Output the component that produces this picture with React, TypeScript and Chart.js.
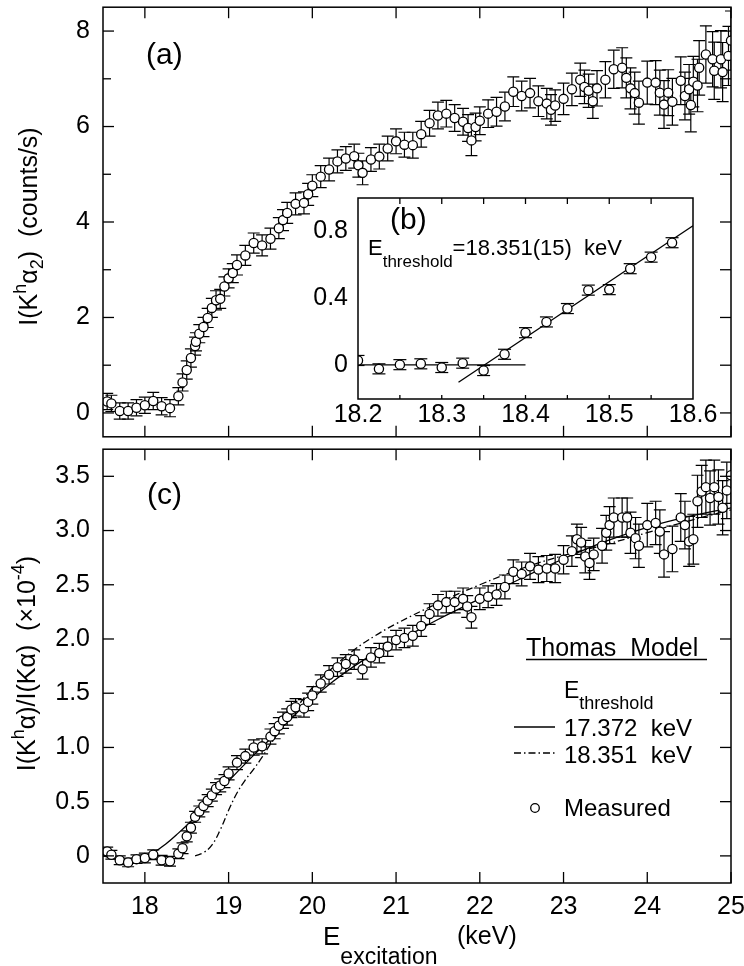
import React, { useEffect, useRef } from "react";
import { Chart, registerables } from "chart.js";

Chart.register(...registerables);

const FONT = "'Liberation Sans', Arial, Helvetica, sans-serif";
const INK = "#000";

// ---------- Panel (a): I(K^h alpha_2) counts/s ----------
const aEnergy = [
  17.55, 17.6, 17.7, 17.8, 17.9, 18.0, 18.1, 18.2, 18.3, 18.4, 18.45, 18.5, 18.55, 18.6, 18.61, 18.65, 18.7, 18.75,
  18.8, 18.85, 18.9, 18.95, 19.0, 19.05, 19.1, 19.2, 19.3, 19.4, 19.5, 19.6, 19.65, 19.7, 19.8, 19.9, 19.95, 20.0,
  20.1, 20.2, 20.3, 20.4, 20.5, 20.55, 20.6, 20.7, 20.8, 20.9, 21.0, 21.1, 21.2, 21.3, 21.4, 21.5, 21.6, 21.7, 21.8,
  21.86, 21.9, 21.95, 22.0, 22.1, 22.2, 22.3, 22.4, 22.5, 22.6, 22.7, 22.8, 22.85, 22.9, 23.0, 23.1, 23.2, 23.25,
  23.3, 23.35, 23.4, 23.5, 23.6, 23.7, 23.75, 23.8, 23.85, 23.9, 24.0, 24.1, 24.15, 24.2, 24.25, 24.3, 24.4, 24.45,
  24.5, 24.52, 24.55, 24.6, 24.62, 24.7, 24.78, 24.8, 24.88, 24.9, 24.97, 25.0,
];
const aIntensity = [
  0.24, 0.2, 0.04, 0.04, 0.11, 0.16, 0.25, 0.14, 0.1, 0.35, 0.64, 0.9, 1.15, 1.4, 1.49, 1.66, 1.8, 1.99,
  2.2, 2.36, 2.39, 2.65, 2.82, 2.93, 3.1, 3.3, 3.56, 3.51, 3.65, 3.87, 4.04, 4.19, 4.38, 4.4, 4.58, 4.76,
  4.95, 5.1, 5.27, 5.33, 5.38, 5.19, 5.03, 5.31, 5.37, 5.54, 5.69, 5.62, 5.61, 5.84, 6.07, 6.23, 6.27, 6.18, 6.1,
  5.97, 5.71, 5.99, 6.12, 6.27, 6.31, 6.42, 6.73, 6.64, 6.7, 6.53, 6.48, 6.35, 6.44, 6.58, 6.78, 6.98, 6.83,
  6.75, 6.53, 6.8, 6.98, 7.2, 7.23, 7.02, 6.8, 6.7, 6.5, 6.92, 6.92, 6.71, 6.46, 6.71, 6.52, 6.96, 6.64,
  6.78, 6.45, 6.94, 6.86, 7.23, 7.51, 7.41, 7.17, 7.41, 7.14, 7.48, 7.8,
];
const aError = [
  0.17, 0.17, 0.17, 0.17, 0.17, 0.17, 0.18, 0.18, 0.18, 0.18, 0.18, 0.19, 0.19, 0.19, 0.19, 0.19, 0.2, 0.2,
  0.2, 0.2, 0.2, 0.2, 0.2, 0.2, 0.21, 0.21, 0.21, 0.22, 0.22, 0.22, 0.22, 0.22, 0.23, 0.23, 0.23, 0.23,
  0.23, 0.24, 0.24, 0.25, 0.25, 0.25, 0.25, 0.25, 0.26, 0.26, 0.26, 0.26, 0.27, 0.27, 0.27, 0.28, 0.28, 0.28, 0.28,
  0.28, 0.32, 0.29, 0.29, 0.29, 0.3, 0.3, 0.31, 0.31, 0.31, 0.32, 0.32, 0.32, 0.33, 0.33, 0.34, 0.35, 0.35,
  0.35, 0.36, 0.37, 0.38, 0.4, 0.42, 0.42, 0.43, 0.44, 0.45, 0.45, 0.46, 0.47, 0.5, 0.48, 0.49, 0.5, 0.5,
  0.52, 0.56, 0.53, 0.55, 0.57, 0.6, 0.58, 0.6, 0.6, 0.62, 0.62, 0.62,
];

// ---------- Panel (b): threshold inset ----------
const bEnergy = [18.2, 18.225, 18.25, 18.275, 18.3, 18.325, 18.35, 18.375, 18.4, 18.425, 18.45, 18.475, 18.5, 18.525, 18.55, 18.575];
const bIntensity = [0.03, -0.02, 0.005, 0.01, -0.012, 0.014, -0.03, 0.067, 0.196, 0.26, 0.34, 0.45, 0.453, 0.578, 0.647, 0.733];
const bError = [0.03, 0.03, 0.03, 0.03, 0.03, 0.03, 0.03, 0.03, 0.03, 0.03, 0.03, 0.03, 0.03, 0.03, 0.03, 0.03];
const bFlatFitE = [18.2, 18.4];
const bFlatFitI = [0.004, 0.004];
const bSlopeFitE = [18.32, 18.6];
const bSlopeFitI = [-0.1, 0.834];

// ---------- Panel (c): ratio x1e-4 ----------
const cEnergy = [
  17.55, 17.6, 17.7, 17.8, 17.9, 18.0, 18.1, 18.2, 18.3, 18.4, 18.45, 18.5, 18.55, 18.6, 18.65, 18.7, 18.75, 18.8,
  18.85, 18.9, 18.95, 19.0, 19.1, 19.2, 19.3, 19.4, 19.5, 19.55, 19.6, 19.65, 19.7, 19.75, 19.8, 19.9, 19.95, 20.0,
  20.1, 20.2, 20.3, 20.4, 20.5, 20.6, 20.7, 20.8, 20.9, 21.0, 21.1, 21.2, 21.3, 21.4, 21.5, 21.6, 21.7, 21.8, 21.85,
  21.9, 22.0, 22.1, 22.2, 22.3, 22.4, 22.5, 22.6, 22.7, 22.8, 22.9, 23.0, 23.1, 23.16, 23.21, 23.26, 23.31, 23.36,
  23.46, 23.51, 23.55, 23.6, 23.7, 23.76, 23.8, 23.86, 23.9, 24.0, 24.1, 24.15, 24.2, 24.3, 24.4, 24.45, 24.5, 24.55,
  24.6, 24.65, 24.7, 24.75, 24.8, 24.85, 24.9, 24.95, 25.0,
];
const cRatio = [
  0.04, 0.01, -0.04, -0.06, -0.03, -0.02, 0.01, -0.04, -0.05, 0.02, 0.07, 0.18, 0.26, 0.36, 0.41, 0.46, 0.51, 0.56,
  0.62, 0.65, 0.69, 0.76, 0.86, 0.92, 1.0, 1.01, 1.1, 1.15, 1.2, 1.25, 1.28, 1.35, 1.37, 1.36, 1.42, 1.48,
  1.59, 1.67, 1.74, 1.77, 1.81, 1.72, 1.83, 1.87, 1.93, 1.99, 2.01, 2.03, 2.12, 2.23, 2.31, 2.34, 2.34, 2.37, 2.3,
  2.2, 2.37, 2.39, 2.41, 2.48, 2.62, 2.6, 2.67, 2.64, 2.65, 2.65, 2.73, 2.81, 2.92, 2.89, 2.76, 2.7, 2.78,
  2.86, 2.98, 3.05, 3.12, 3.12, 3.12, 2.98, 2.93, 2.86, 3.05, 3.07, 2.99, 2.78, 2.83, 3.12, 3.05, 2.9, 2.92,
  3.27, 3.36, 3.4, 3.3, 3.4, 3.31, 3.21, 3.37, 3.51,
];
const cError = [
  0.04, 0.04, 0.04, 0.04, 0.04, 0.045, 0.045, 0.045, 0.045, 0.045, 0.05, 0.05, 0.05, 0.05, 0.05, 0.055, 0.055, 0.055,
  0.055, 0.06, 0.06, 0.06, 0.065, 0.065, 0.07, 0.07, 0.07, 0.07, 0.075, 0.075, 0.075, 0.075, 0.08, 0.08, 0.08, 0.08,
  0.08, 0.085, 0.085, 0.085, 0.09, 0.09, 0.09, 0.09, 0.09, 0.09, 0.09, 0.095, 0.095, 0.095, 0.1, 0.1, 0.1, 0.1, 0.1,
  0.1, 0.1, 0.1, 0.1, 0.11, 0.11, 0.11, 0.12, 0.12, 0.12, 0.13, 0.13, 0.14, 0.14, 0.14, 0.15, 0.15, 0.15,
  0.16, 0.16, 0.17, 0.18, 0.18, 0.18, 0.19, 0.19, 0.2, 0.2, 0.2, 0.2, 0.21, 0.21, 0.22, 0.22, 0.23, 0.23,
  0.24, 0.24, 0.25, 0.25, 0.25, 0.25, 0.25, 0.26, 0.26,
];

// Thomas model curves
const modelSolidE = [17.5, 17.65, 17.8, 17.95, 18.1, 18.25, 18.4, 18.55, 18.7, 18.85, 19.0, 19.25, 19.5, 19.75, 20.0, 20.25, 20.5, 20.75, 21.0, 21.5, 22.0, 22.5, 23.0, 23.5, 24.0, 24.5, 25.0];
const modelSolid = [0.0, -0.03, -0.04, -0.02, 0.03, 0.11, 0.21, 0.32, 0.44, 0.56, 0.69, 0.89, 1.08, 1.27, 1.45, 1.61, 1.75, 1.87, 1.97, 2.18, 2.37, 2.56, 2.74, 2.9, 3.03, 3.13, 3.21];
const modelDashE = [18.6, 18.7, 18.8, 18.9, 19.0, 19.1, 19.2, 19.3, 19.4, 19.5, 19.75, 20.0, 20.25, 20.5, 20.75, 21.0, 21.5, 22.0, 22.5, 23.0, 23.5, 24.0, 24.5, 25.0];
const modelDash = [0.0, 0.03, 0.1, 0.24, 0.42, 0.58, 0.7, 0.8, 0.91, 1.03, 1.3, 1.55, 1.74, 1.9, 2.03, 2.14, 2.33, 2.5, 2.65, 2.77, 2.87, 2.98, 3.09, 3.19];

// ---------- Ticks ----------
const mainXTicks = [18, 19, 20, 21, 22, 23, 24, 25];
const aYTicks = [0, 2, 4, 6, 8];
const aYMinorTicks = [1, 3, 5, 7];
const cYTicks = [0, 0.5, 1.0, 1.5, 2.0, 2.5, 3.0, 3.5];
const bXTicks = [18.2, 18.3, 18.4, 18.5, 18.6];
const bXTickMarks = [18.25, 18.3, 18.35, 18.4, 18.45, 18.5, 18.55];
const bYTicks = [0, 0.4, 0.8];

type XY = { x: number; y: number | null };
const toPoints = (xs: number[], ys: number[]): XY[] => xs.map((x, i) => ({ x, y: ys[i] }));
const toErrorBars = (xs: number[], ys: number[], es: number[]): XY[] => {
  const out: XY[] = [];
  xs.forEach((x, i) => {
    out.push({ x, y: ys[i] - es[i] }, { x, y: ys[i] + es[i] }, { x, y: null });
  });
  return out;
};
const toErrorCaps = (xs: number[], ys: number[], es: number[]): XY[] => {
  const out: XY[] = [];
  xs.forEach((x, i) => {
    out.push({ x, y: ys[i] - es[i] }, { x, y: ys[i] + es[i] });
  });
  return out;
};

function measuredDatasets(xs: number[], ys: number[], es: number[], cap: number): any[] {
  return [
    {
      type: "scatter",
      data: toPoints(xs, ys),
      pointRadius: 4.6,
      pointHoverRadius: 4.6,
      pointBackgroundColor: "#fff",
      pointBorderColor: INK,
      pointBorderWidth: 1.3,
      order: 0,
    },
    {
      type: "line",
      data: toErrorBars(xs, ys, es),
      borderColor: INK,
      borderWidth: 1.2,
      pointRadius: 0,
      spanGaps: false,
      fill: false,
      tension: 0,
      order: 3,
    },
    {
      type: "scatter",
      data: toErrorCaps(xs, ys, es),
      pointStyle: "line",
      pointRadius: cap,
      pointHoverRadius: cap,
      pointBorderColor: INK,
      pointBorderWidth: 1.2,
      order: 3,
    },
  ];
}

function lineDataset(xs: number[], ys: number[], dash: number[] = [], tension = 0): any {
  return {
    type: "line",
    data: toPoints(xs, ys),
    borderColor: INK,
    borderWidth: 1.3,
    borderDash: dash,
    pointRadius: 0,
    fill: false,
    tension,
    order: 1,
  };
}

function axis(min: number, max: number, labels: number[] | null, fmt: (v: number) => string, padding: number, fit: number, isX: boolean): any {
  return {
    type: "linear",
    min,
    max,
    display: labels !== null,
    grid: { display: false, drawTicks: false },
    border: { display: false },
    afterBuildTicks: (s: any) => {
      if (labels) s.ticks = labels.map((v) => ({ value: v }));
    },
    afterFit: (s: any) => {
      if (isX) s.height = fit;
      else s.width = fit;
      s.paddingLeft = 0;
      s.paddingRight = 0;
      s.paddingTop = 0;
      s.paddingBottom = 0;
    },
    ticks: {
      autoSkip: false,
      maxRotation: 0,
      minRotation: 0,
      padding,
      color: INK,
      font: { family: FONT, size: 25 },
      callback: (v: any) => fmt(Number(v)),
    },
  };
}

type TickSpec = { values: number[]; a: number; b: number };

const frameTicks = {
  id: "frameTicks",
  beforeDatasetsDraw(chart: any, _args: any, o: any) {
    if (!o || !o.fill) return;
    const { ctx, chartArea: ca } = chart;
    ctx.save();
    ctx.fillStyle = "#fff";
    ctx.fillRect(ca.left, ca.top, ca.right - ca.left, ca.bottom - ca.top);
    ctx.restore();
  },
  afterDatasetsDraw(chart: any, _args: any, o: any) {
    if (!o || !o.enabled) return;
    const { ctx, chartArea: ca, scales } = chart;
    const sx = scales.x;
    const sy = scales.y;
    ctx.save();
    ctx.strokeStyle = INK;
    ctx.lineWidth = 1.5;
    ctx.setLineDash([]);
    ctx.strokeRect(ca.left, ca.top, ca.right - ca.left, ca.bottom - ca.top);
    ctx.lineWidth = 1.3;
    const seg = (x1: number, y1: number, x2: number, y2: number) => {
      ctx.beginPath();
      ctx.moveTo(x1, y1);
      ctx.lineTo(x2, y2);
      ctx.stroke();
    };
    (o.x || []).forEach((t: TickSpec) => {
      t.values.forEach((v) => {
        const px = sx.getPixelForValue(v);
        if (t.a) seg(px, ca.top, px, ca.top + t.a);
        if (t.b) seg(px, ca.bottom, px, ca.bottom - t.b);
      });
    });
    (o.y || []).forEach((t: TickSpec) => {
      t.values.forEach((v) => {
        const py = sy.getPixelForValue(v);
        if (t.a) seg(ca.left, py, ca.left + t.a, py);
        if (t.b) seg(ca.right, py, ca.right - t.b, py);
      });
    });
    ctx.restore();
  },
};

type Run = { t: string; s: number; dy?: number };
function drawRuns(ctx: CanvasRenderingContext2D, runs: Run[], x: number, y: number, center = false) {
  let w = 0;
  for (const r of runs) {
    ctx.font = `${r.s}px ${FONT}`;
    w += ctx.measureText(r.t).width;
  }
  let cx = center ? x - w / 2 : x;
  ctx.textAlign = "left";
  ctx.textBaseline = "alphabetic";
  ctx.fillStyle = INK;
  for (const r of runs) {
    ctx.font = `${r.s}px ${FONT}`;
    ctx.fillText(r.t, cx, y + (r.dy ?? 0));
    cx += ctx.measureText(r.t).width;
  }
}
function drawRotated(ctx: CanvasRenderingContext2D, runs: Run[], x: number, y: number) {
  ctx.save();
  ctx.translate(x, y);
  ctx.rotate(-Math.PI / 2);
  drawRuns(ctx, runs, 0, 0, true);
  ctx.restore();
}

const baseOptions = (padding: any, scales: any, frame: any): any => ({
  animation: false,
  responsive: false,
  maintainAspectRatio: false,
  events: [],
  layout: { padding },
  plugins: { legend: { display: false }, tooltip: { enabled: false }, frameTicks: frame },
  scales,
});

export default function App() {
  const refA = useRef<HTMLCanvasElement>(null);
  const refB = useRef<HTMLCanvasElement>(null);
  const refC = useRef<HTMLCanvasElement>(null);

  useEffect(() => {
    const charts: Chart[] = [];

    // Panel (a)
    charts.push(
      new Chart(refA.current as HTMLCanvasElement, {
        type: "scatter",
        data: { datasets: measuredDatasets(aEnergy, aIntensity, aError, 6) },
        options: baseOptions(
          { top: 1, right: 13, bottom: 1, left: 0 },
          {
            x: axis(17.5, 25, null, (v) => String(v), 0, 0, true),
            y: axis(-0.5, 8.5, aYTicks, (v) => String(v), 13, 103, false),
          },
          {
            enabled: true,
            x: [{ values: mainXTicks, a: 11, b: 11 }],
            y: [
              { values: aYTicks, a: 11, b: 11 },
              { values: aYMinorTicks, a: 8, b: 11 },
            ],
          }
        ),
        plugins: [
          frameTicks,
          {
            id: "textA",
            afterDraw(chart: any) {
              const ctx = chart.ctx as CanvasRenderingContext2D;
              drawRuns(ctx, [{ t: "(a)", s: 30 }], 146, 64);
              drawRotated(
                ctx,
                [
                  { t: "I(K", s: 25 },
                  { t: "h", s: 18, dy: -11 },
                  { t: "α", s: 25 },
                  { t: "2", s: 18, dy: 6 },
                  { t: ")  (counts/s)", s: 25 },
                ],
                37,
                226.5
              );
            },
          },
        ],
      } as any)
    );

    // Panel (c)
    charts.push(
      new Chart(refC.current as HTMLCanvasElement, {
        type: "scatter",
        data: {
          datasets: [
            ...measuredDatasets(cEnergy, cRatio, cError, 6),
            lineDataset(modelSolidE, modelSolid, [], 0.4),
            lineDataset(modelDashE, modelDash, [7, 3, 1.5, 3], 0.4),
          ],
        },
        options: baseOptions(
          { top: 1, right: 13, bottom: 0, left: 0 },
          {
            x: axis(17.5, 25, mainXTicks, (v) => String(v), 9, 83, true),
            y: axis(-0.25, 3.75, cYTicks, (v) => (v === 0 ? "0" : v.toFixed(1)), 13, 103, false),
          },
          {
            enabled: true,
            x: [{ values: mainXTicks, a: 11, b: 11 }],
            y: [{ values: cYTicks, a: 11, b: 11 }],
          }
        ),
        plugins: [
          frameTicks,
          {
            id: "textC",
            afterDraw(chart: any) {
              const ctx = chart.ctx as CanvasRenderingContext2D;
              drawRuns(ctx, [{ t: "(c)", s: 30 }], 147, 62);
              drawRotated(
                ctx,
                [
                  { t: "I(K", s: 25 },
                  { t: "h", s: 18, dy: -11 },
                  { t: "α)/I(Kα)  (×10", s: 25 },
                  { t: "-4", s: 18, dy: -11 },
                  { t: ")", s: 25 },
                ],
                35,
                221.5
              );
              // legend
              drawRuns(ctx, [{ t: "Thomas  Model", s: 25 }], 526, 214);
              ctx.save();
              ctx.strokeStyle = INK;
              ctx.lineWidth = 1.3;
              ctx.beginPath();
              ctx.moveTo(526, 217.5);
              ctx.lineTo(707, 217.5);
              ctx.stroke();
              ctx.beginPath();
              ctx.moveTo(514, 285);
              ctx.lineTo(555, 285);
              ctx.stroke();
              ctx.setLineDash([7, 3, 1.5, 3]);
              ctx.beginPath();
              ctx.moveTo(514, 311);
              ctx.lineTo(555, 311);
              ctx.stroke();
              ctx.setLineDash([]);
              ctx.beginPath();
              ctx.arc(535, 366, 4.3, 0, Math.PI * 2);
              ctx.stroke();
              ctx.restore();
              drawRuns(ctx, [{ t: "E", s: 23 }, { t: "threshold", s: 18, dy: 11 }], 564, 256);
              drawRuns(ctx, [{ t: "17.372  keV", s: 24 }], 564, 294);
              drawRuns(ctx, [{ t: "18.351  keV", s: 24 }], 564, 321);
              drawRuns(ctx, [{ t: "Measured", s: 24 }], 564, 374);
              // x title
              drawRuns(ctx, [{ t: "E", s: 26 }, { t: "excitation", s: 23, dy: 19 }], 323, 503);
              drawRuns(ctx, [{ t: "(keV)", s: 25 }], 457, 502);
            },
          },
        ],
      } as any)
    );

    // Inset (b)
    charts.push(
      new Chart(refB.current as HTMLCanvasElement, {
        type: "scatter",
        data: {
          datasets: [
            ...measuredDatasets(bEnergy, bIntensity, bError, 6.5),
            lineDataset(bFlatFitE, bFlatFitI),
            lineDataset(bSlopeFitE, bSlopeFitI),
          ],
        },
        options: baseOptions(
          { top: 8, right: 51, bottom: 0, left: 0 },
          {
            x: axis(18.2, 18.6, bXTicks, (v) => v.toFixed(1), 1, 31, true),
            y: axis(-0.2, 1.0, bYTicks, (v) => (v === 0 ? "0" : v.toFixed(1)), 10, 58, false),
          },
          {
            enabled: true,
            fill: true,
            x: [{ values: bXTickMarks, a: 6, b: 4 }],
            y: [],
          }
        ),
        plugins: [
          frameTicks,
          {
            id: "textB",
            afterDraw(chart: any) {
              const ctx = chart.ctx as CanvasRenderingContext2D;
              drawRuns(ctx, [{ t: "(b)", s: 30 }], 90, 39);
              drawRuns(
                ctx,
                [
                  { t: "E", s: 22 },
                  { t: "threshold", s: 17, dy: 12 },
                  { t: "=18.351(15)  keV", s: 22 },
                ],
                68,
                65
              );
            },
          },
        ],
      } as any)
    );

    return () => {
      charts.forEach((c) => c.destroy());
    };
  }, []);

  return (
    <div style={{ position: "absolute", left: 0, top: 0, width: 744, height: 966, background: "#fff", overflow: "hidden" }}>
      <canvas ref={refA} width={744} height={444} style={{ position: "absolute", left: 0, top: 0 }} />
      <canvas ref={refC} width={744} height={524} style={{ position: "absolute", left: 0, top: 442 }} />
      <canvas ref={refB} width={444} height={240} style={{ position: "absolute", left: 300, top: 190 }} />
    </div>
  );
}
